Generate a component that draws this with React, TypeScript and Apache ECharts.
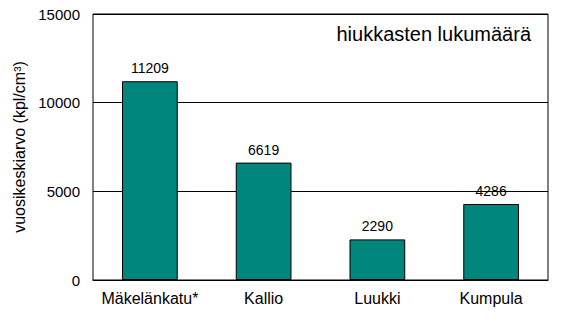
import React, { useEffect, useRef } from "react";
import * as echarts from "echarts";

const categories = ["Mäkelänkatu*", "Kallio", "Luukki", "Kumpula"];
const values = [11209, 6619, 2290, 4286];
const yTicks = [0, 5000, 10000, 15000];
const titleText = "hiukkasten lukumäärä";
const yAxisName = "vuosikeskiarvo (kpl/cm³)";

export default function App() {
  const ref = useRef<HTMLDivElement>(null);
  useEffect(() => {
    if (!ref.current) return;
    const chart = echarts.init(ref.current, null, { renderer: "svg" });
    const font = "Liberation Sans, Arial, sans-serif";
    chart.setOption({
      animation: false,
      backgroundColor: "#fff",
      textStyle: { fontFamily: font },
      title: {
        text: titleText,
        right: 30,
        top: 19,
        textStyle: { fontFamily: font, fontSize: 20, fontWeight: "normal", color: "#000" },
      },
      grid: {
        left: 93,
        right: 18,
        top: 14,
        bottom: 50,
        show: true,
        borderColor: "#000",
        borderWidth: 1,
        containLabel: false,
      },
      xAxis: {
        type: "category",
        data: categories,
        axisLine: { show: true, lineStyle: { color: "#000", width: 1 } },
        axisTick: { show: false },
        axisLabel: { color: "#000", fontSize: 16, fontFamily: font, margin: 10, interval: 0 },
      },
      yAxis: {
        type: "value",
        min: yTicks[0],
        max: yTicks[yTicks.length - 1],
        interval: yTicks[1] - yTicks[0],
        name: yAxisName,
        nameLocation: "middle",
        nameRotate: 90,
        nameGap: 66,
        nameTextStyle: { color: "#000", fontSize: 16, fontFamily: font },
        axisLine: { show: false },
        axisTick: { show: false },
        axisLabel: {
          color: "#000",
          fontSize: 15,
          fontFamily: font,
          margin: 13,
          formatter: (v: number) => String(v),
        },
        splitLine: { show: true, lineStyle: { color: "#000", width: 1 } },
      },
      series: [
        {
          type: "bar",
          data: values,
          barWidth: "49%",
          itemStyle: { color: "#00867C", borderColor: "#000", borderWidth: 1 },
          label: {
            show: true,
            position: "top",
            distance: 6,
            color: "#000",
            fontSize: 14,
            fontFamily: font,
          },
        },
      ],
    });
    return () => chart.dispose();
  }, []);
  return (
    <div
      ref={ref}
      style={{ position: "fixed", left: 0, top: 0, width: 566, height: 330 }}
    />
  );
}
